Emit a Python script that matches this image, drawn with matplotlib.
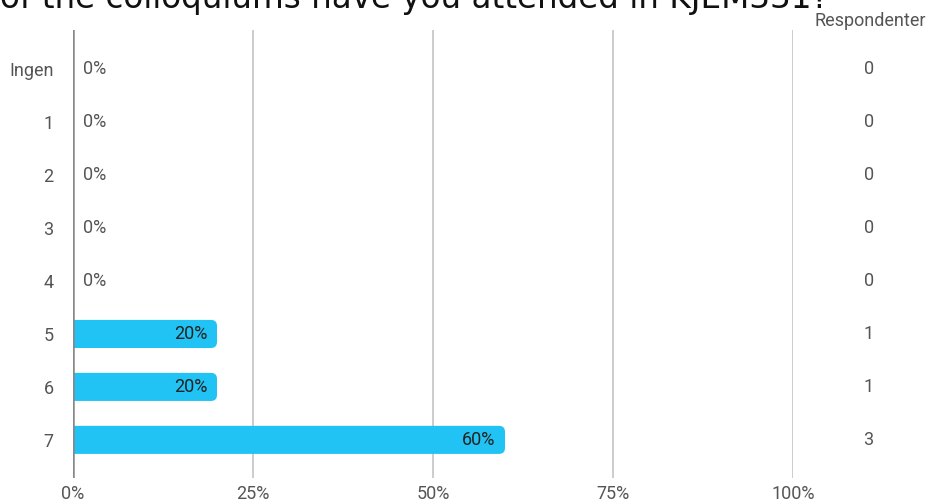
import matplotlib.pyplot as plt
from matplotlib.patches import FancyBboxPatch

# data
kategorier = ['Ingen', '1', '2', '3', '4', '5', '6', '7']
prosent = [0, 0, 0, 0, 0, 20, 20, 60]
respondenter = [0, 0, 0, 0, 0, 1, 1, 3]
xticks = [0, 25, 50, 75, 100]
tittel = 'of the colloquiums have you attended in KJEM331?'

fig = plt.figure(figsize=(9.37, 5.03), dpi=100)
ax = fig.add_axes([73 / 937, 1 - 478 / 503, 720 / 937, 448 / 503])

ax.set_xlim(0, 100)
ax.set_ylim(7.72, -0.74)

fs = 13
bar_h = 0.53
px_x = 720 / 100  # piksler per x-enhet
px_y = 53  # piksler per kategori
r = 6 / px_x
for i, p in enumerate(prosent):
    if p > 0:
        patch = FancyBboxPatch((-2, i - bar_h / 2), p + 2, bar_h,
                               boxstyle='round,pad=0,rounding_size=%f' % r,
                               mutation_aspect=px_x / px_y,
                               facecolor='#20c3f3', edgecolor='none', zorder=3)
        ax.add_patch(patch)
        ax.text(p - 1.3, i, f'{p}%', ha='right', va='center', fontsize=fs,
                family='Roboto', color='#222222', zorder=4)
    else:
        ax.text(1.4, i, f'{p}%', ha='left', va='center', fontsize=fs,
                family='Roboto', color='#555555', zorder=4)
    ax.text(110.5, i, str(respondenter[i]), ha='center', va='center',
            fontsize=fs, family='Roboto', color='#555555', clip_on=False)

for x in xticks[1:]:
    ax.axvline(x, color='#c8c8c8', lw=1.3, zorder=1)
ax.axvline(0, color='#888888', lw=1.8, zorder=5)

for s in ax.spines.values():
    s.set_visible(False)
ax.set_yticks(range(len(kategorier)))
ax.set_yticklabels(kategorier, family='Roboto', fontsize=fs, color='#555555')
ax.set_xticks(xticks)
ax.set_xticklabels([f'{x}%' for x in xticks], family='Roboto', fontsize=fs,
                   color='#555555')
ax.tick_params(axis='both', length=0)
ax.tick_params(axis='y', pad=14)
ax.tick_params(axis='x', pad=5)

fig.text(926 / 937, 1 - 21 / 503, 'Respondenter', ha='right', va='center',
         family='Roboto', fontsize=fs, color='#555555')
fig.text(0, 1 - 8 / 503, tittel, ha='left', va='baseline',
         family='DejaVu Sans', fontsize=23.5, color='#111111')

fig.savefig('out.png', dpi=100)
